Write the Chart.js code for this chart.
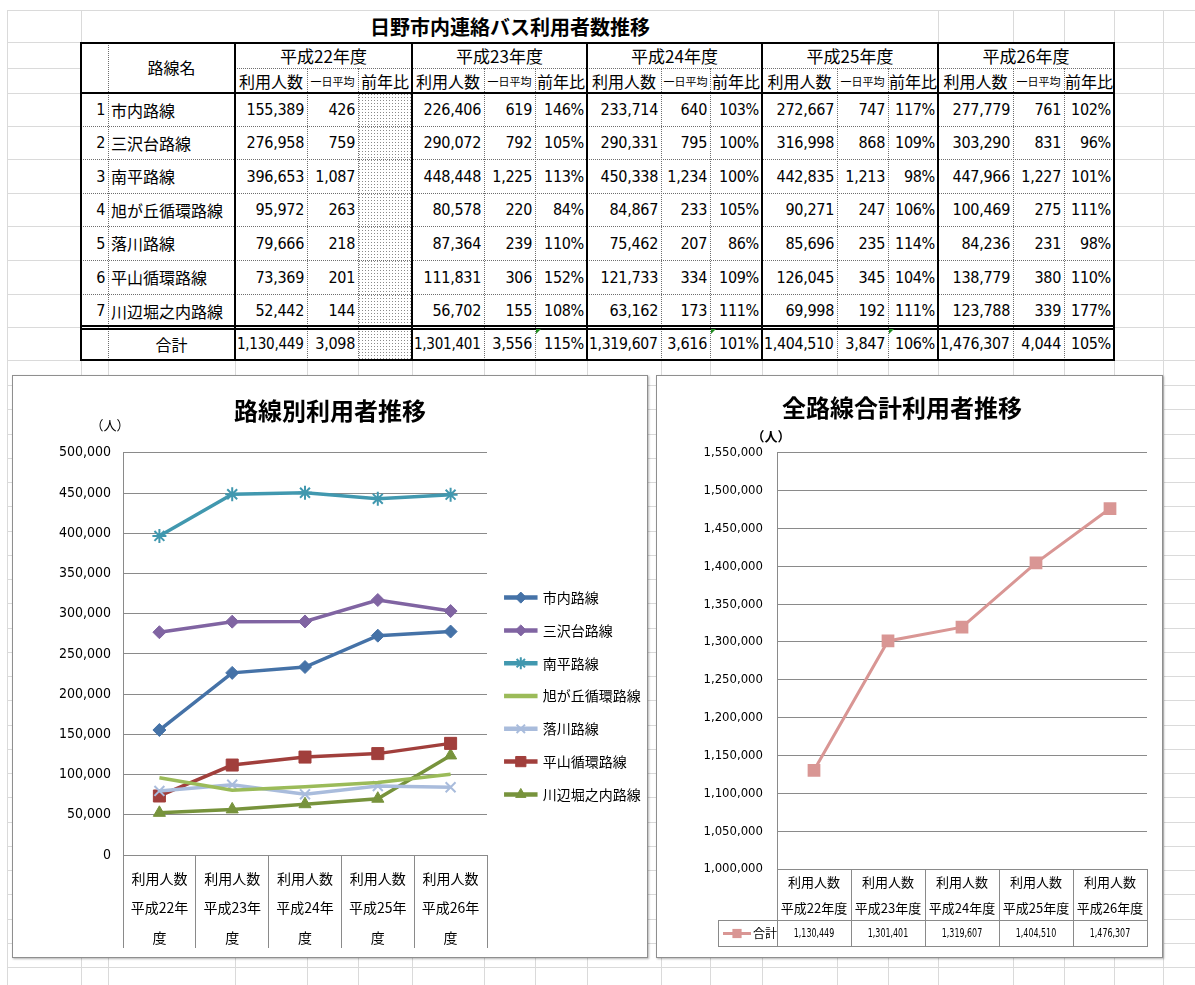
<!DOCTYPE html>
<html lang="ja">
<head>
<meta charset="utf-8">
<title>日野市内連絡バス利用者数推移</title>
<script src="https://cdn.jsdelivr.net/npm/chart.js@4.4.1/dist/chart.umd.min.js"></script>
<style>
  body { margin:0; width:1195px; height:985px; position:relative; overflow:hidden; background:#fff; font-family:"Noto Sans CJK JP", sans-serif; color:#000; }
  .grid { position:absolute; background:#dadada; }
  #sheetTitle { position:absolute; left:82px; top:11px; width:856px; height:31px; background:#fff; text-align:center; font-size:20px; font-weight:bold; line-height:31px; }
  .cell { position:absolute; box-sizing:border-box; display:flex; align-items:center; background:#fff; white-space:nowrap; font-size:16px; overflow:hidden; }
  .num { justify-content:flex-end; padding-right:3px; font-family:"DejaVu Sans Condensed", sans-serif; letter-spacing:-0.3px; }
  .num span { display:inline-block; transform-origin:right center; }
  .name { justify-content:flex-start; padding-left:3px; }
  .ctr { justify-content:center; }
  .dots { background:#fff radial-gradient(circle, #8a8a8a 0.6px, transparent 0.9px) 0 0/3px 3px; }
  .ln { position:absolute; box-sizing:border-box; }
  .box { position:absolute; box-sizing:border-box; border:1px solid #8f8f8f; background:#fff; box-shadow:1px 1px 2px rgba(0,0,0,.3); }
  canvas { display:block; }
</style>
</head>
<body>
<div id="sheetTitle">日野市内連絡バス利用者数推移</div>
<div class="box" style="left:12px;top:375px;width:636px;height:583px"><canvas id="routeChart" width="634" height="581"></canvas></div>
<div class="box" style="left:656px;top:375px;width:507px;height:583px"><canvas id="totalChart" width="505" height="581"></canvas></div>
<script>
// 年度
const years = ['平成22年度', '平成23年度', '平成24年度', '平成25年度', '平成26年度'];
const routes = ['市内路線', '三沢台路線', '南平路線', '旭が丘循環路線', '落川路線', '平山循環路線', '川辺堀之内路線'];

// 利用人数
const shinai      = [155389, 226406, 233714, 272667, 277779];
const misawadai   = [276958, 290072, 290331, 316998, 303290];
const minamidaira = [396653, 448448, 450338, 442835, 447966];
const asahigaoka  = [95972, 80578, 84867, 90271, 100469];
const ochikawa    = [79666, 87364, 75462, 85696, 84236];
const hirayama    = [73369, 111831, 121733, 126045, 138779];
const kawabe      = [52442, 56702, 63162, 69998, 123788];
const total       = [1130449, 1301401, 1319607, 1404510, 1476307];

// 一日平均
const shinaiDay      = [426, 619, 640, 747, 761];
const misawadaiDay   = [759, 792, 795, 868, 831];
const minamidairaDay = [1087, 1225, 1234, 1213, 1227];
const asahigaokaDay  = [263, 220, 233, 247, 275];
const ochikawaDay    = [218, 239, 207, 235, 231];
const hirayamaDay    = [201, 306, 334, 345, 380];
const kawabeDay      = [144, 155, 173, 192, 339];
const totalDay       = [3098, 3556, 3616, 3847, 4044];

// 前年比 (%), 平成22年度は無し
const shinaiPct      = [null, 146, 103, 117, 102];
const misawadaiPct   = [null, 105, 100, 109, 96];
const minamidairaPct = [null, 113, 100, 98, 101];
const asahigaokaPct  = [null, 84, 105, 106, 111];
const ochikawaPct    = [null, 110, 86, 114, 98];
const hirayamaPct    = [null, 152, 109, 104, 110];
const kawabePct      = [null, 108, 111, 111, 177];
const totalPct       = [null, 115, 101, 106, 105];

const routeUsers = [shinai, misawadai, minamidaira, asahigaoka, ochikawa, hirayama, kawabe];
const routeDay = [shinaiDay, misawadaiDay, minamidairaDay, asahigaokaDay, ochikawaDay, hirayamaDay, kawabeDay];
const routePct = [shinaiPct, misawadaiPct, minamidairaPct, asahigaokaPct, ochikawaPct, hirayamaPct, kawabePct];

const fmt = v => v.toLocaleString('en-US');

// ---- sheet grid ----
const sheetCols = [7, 81, 108, 235, 307, 358, 412, 484, 535, 587, 661, 710, 762, 837, 888, 938, 1013, 1064, 1114, 1163];
const sheetRows = [10, 42, 68, 93, 126, 159, 193, 226, 260, 294, 327, 360];
for (let y = 385; y < 985; y += 24.25) sheetRows.push(Math.round(y));

function div(cls, x, y, w, h, css) {
  const d = document.createElement('div');
  d.className = cls;
  d.style.cssText = `left:${x}px;top:${y}px;width:${w}px;height:${h}px;` + (css || '');
  document.body.insertBefore(d, document.body.firstChild);
  return d;
}
// (inserted at the front so they stay under everything)
sheetCols.forEach(x => div('grid', x, 10, 1, 975));
sheetRows.forEach(y => div('grid', 7, y, 1188, 1));

// ---- table ----
const colX = [81, 108, 235, 307, 358, 412, 484, 535, 587, 661, 710, 762, 837, 888, 938, 1013, 1064, 1114];
const rowY = [42, 68, 93, 126, 159, 193, 226, 260, 294, 327, 360];

function cell(x1, x2, y1, y2, text, cls, css) {
  const d = document.createElement('div');
  d.className = 'cell ' + cls;
  d.style.cssText = `left:${x1}px;top:${y1}px;width:${x2 - x1}px;height:${y2 - y1}px;` + (css || '');
  if (cls.includes('num')) {
    const s = document.createElement('span');
    s.textContent = text;
    d.appendChild(s);
  } else {
    d.textContent = text;
  }
  document.body.appendChild(d);
  return d;
}
function ln(x, y, w, h, css) {
  const d = document.createElement('div');
  d.className = 'ln';
  d.style.cssText = `left:${x}px;top:${y}px;width:${w}px;height:${h}px;` + css;
  document.body.appendChild(d);
}

cell(colX[0], colX[1], rowY[0], rowY[2], '', 'ctr');
cell(colX[1], colX[2], rowY[0], rowY[2], '路線名', 'ctr', 'padding-bottom:2px;');
years.forEach((yr, g) => {
  const c = 2 + 3 * g;
  cell(colX[c], colX[c + 3], rowY[0], rowY[1], yr, 'ctr', 'font-size:17px;');
  cell(colX[c], colX[c + 1], rowY[1], rowY[2], '利用人数', 'ctr');
  cell(colX[c + 1], colX[c + 2], rowY[1], rowY[2], '一日平均', 'ctr', 'font-size:11px;');
  cell(colX[c + 2], colX[c + 3], rowY[1], rowY[2], '前年比', 'ctr', 'font-size:16px;');
});

function tableRow(r, no, name, users, day, pct) {
  const y1 = rowY[2 + r], y2 = rowY[3 + r];
  cell(colX[0], colX[1], y1, y2, no, 'num');
  if (no) cell(colX[1], colX[2], y1, y2, name, 'name');
  else cell(colX[1], colX[2], y1, y2, name, 'ctr');
  years.forEach((yr, g) => {
    const c = 2 + 3 * g;
    cell(colX[c], colX[c + 1], y1, y2, fmt(users[g]), 'num');
    cell(colX[c + 1], colX[c + 2], y1, y2, fmt(day[g]), 'num');
    if (pct[g] === null) cell(colX[c + 2], colX[c + 3], y1, y2, '', 'dots');
    else cell(colX[c + 2], colX[c + 3], y1, y2, pct[g] + '%', 'num');
  });
}
routes.forEach((name, r) => tableRow(r, String(r + 1), name, routeUsers[r], routeDay[r], routePct[r]));
tableRow(7, '', '合計', total, totalDay, totalPct);

// shrink numbers that do not fit, like the spreadsheet does
document.querySelectorAll('.num span').forEach(s => {
  const room = s.parentNode.clientWidth - 5;
  if (s.offsetWidth > room) s.style.transform = `scaleX(${room / s.offsetWidth})`;
});

// table rules
const dotted = 'border-top:1px dotted #6e6e6e;';
const dottedV = 'border-left:1px dotted #6e6e6e;';
ln(colX[1], rowY[0], 1, rowY[10] - rowY[0], dottedV);
[3, 4, 6, 7, 9, 10, 12, 13, 15, 16].forEach(c => ln(colX[c], rowY[1], 1, rowY[10] - rowY[1], dottedV));
ln(colX[2], rowY[1], colX[17] - colX[2], 1, dotted);
for (let r = 3; r <= 8; r++) ln(colX[0], rowY[r], colX[17] - colX[0], 1, dotted);
[2, 5, 8, 11, 14].forEach(c => ln(colX[c] - 1, rowY[0], 2, rowY[10] - rowY[0], 'background:#000;'));
ln(colX[0], rowY[2] - 1, colX[17] - colX[0], 2, 'background:#000;');
ln(colX[0], rowY[9] - 2, colX[17] - colX[0], 0, 'border-top:5px double #000;');
ln(colX[0] - 1, rowY[0], colX[17] - colX[0] + 2, rowY[10] - rowY[0] + 1, 'border:2px solid #000;');
// error marks in the 合計 row
[7, 10, 13].forEach(c => ln(colX[c] + 1, rowY[9] + 2, 0, 0, 'border-top:5px solid #1f8a1f;border-right:5px solid transparent;'));

// ---- charts ----
Chart.defaults.font.family = '"Noto Sans CJK JP", sans-serif';
Chart.defaults.color = '#000';
const gridGray = '#8a8a8a';
const narrow = '"DejaVu Sans Condensed", sans-serif';

function series(label, data, color, style, r) {
  const stroked = style === 'star' || style === 'crossRot';
  return {
    label: label, data: data,
    borderColor: color, backgroundColor: color,
    borderWidth: 3.5, tension: 0,
    pointStyle: style, pointRadius: style ? r : 0,
    pointBackgroundColor: color, pointBorderColor: color,
    pointBorderWidth: stroked ? 2 : 1
  };
}

// markers on top of the legend lines, and the legend moved down a little
const legendMarks = {
  id: 'legendMarks',
  afterUpdate(chart, args, opts) {
    const lg = chart.legend;
    if (!lg || !lg.legendHitBoxes) return;
    lg.top += opts.shift;
    lg.bottom += opts.shift;
    lg.legendHitBoxes.forEach(b => { b.top += opts.shift; });
  },
  afterDraw(chart) {
    const lg = chart.legend;
    if (!lg || !lg.legendHitBoxes) return;
    const ctx = chart.ctx;
    lg.legendHitBoxes.forEach((b, i) => {
      const d = chart.data.datasets[i];
      if (!d.pointStyle) return;
      ctx.save();
      ctx.fillStyle = d.borderColor;
      ctx.strokeStyle = d.borderColor;
      ctx.lineWidth = d.pointBorderWidth;
      Chart.helpers.drawPoint(ctx, { pointStyle: d.pointStyle, radius: d.pointRadius * 0.85, borderWidth: d.pointBorderWidth, rotation: 0 },
        b.left + 15, b.top + b.height / 2);
      ctx.restore();
    });
  }
};

// "（人）" unit label above the y axis
const unitLabel = {
  id: 'unitLabel',
  afterDraw(chart, args, opts) {
    const ctx = chart.ctx, a = chart.chartArea;
    ctx.save();
    ctx.font = (opts.bold ? 'bold ' : '') + opts.size + 'px "Noto Sans CJK JP"';
    ctx.fillStyle = '#000';
    ctx.textAlign = 'center';
    ctx.textBaseline = 'middle';
    ctx.fillText('（人）', a.left + opts.dx, a.top + opts.dy);
    ctx.restore();
  }
};

new Chart(document.getElementById('routeChart'), {
  type: 'line',
  data: {
    labels: years.map(y => ['利用人数', y.slice(0, -1), '度']),
    datasets: [
      series(routes[0], shinai, '#4572A7', 'rectRot', 6.5),
      series(routes[1], misawadai, '#8064A2', 'rectRot', 6.5),
      series(routes[2], minamidaira, '#4198AF', 'star', 7),
      series(routes[3], asahigaoka, '#9BBB59', false, 0),
      series(routes[4], ochikawa, '#A9BCDC', 'crossRot', 7),
      series(routes[5], hirayama, '#A13F3C', 'rect', 8.5),
      series(routes[6], kawabe, '#77933C', 'triangle', 7)
    ]
  },
  plugins: [legendMarks, unitLabel],
  options: {
    responsive: false,
    animation: false,
    layout: { padding: { left: 0, right: 0, top: 0, bottom: 9 } },
    plugins: {
      title: { display: true, text: '路線別利用者推移', font: { size: 24, weight: 'bold' }, color: '#000', padding: { top: 20, bottom: 28 } },
      legend: {
        position: 'right', maxWidth: 160,
        labels: { boxWidth: 30, boxHeight: 1, padding: 18.8, font: { size: 14 }, color: '#000' }
      },
      legendMarks: { shift: 34 },
      tooltip: { enabled: false },
      unitLabel: { dx: -13, dy: -28, size: 13, bold: false }
    },
    scales: {
      y: {
        min: 0, max: 500000,
        ticks: { stepSize: 50000, callback: v => fmt(v), font: { family: narrow, size: 14 }, color: '#000', padding: 12 },
        grid: { color: gridGray, drawTicks: false },
        border: { color: gridGray },
        afterFit(s) { s.width = 110; }
      },
      x: {
        offset: true,
        grid: { offset: true, color: gridGray, tickLength: 93, drawOnChartArea: false },
        ticks: { padding: -84, font: { size: 14, lineHeight: 2.1 }, color: '#000', maxRotation: 0 },
        border: { color: gridGray },
        afterFit(s) { s.height = 93; }
      }
    }
  }
});

// data table under the total chart
const dataTable = {
  id: 'dataTable',
  afterDraw(chart) {
    const { ctx, chartArea: a, scales: { x } } = chart;
    const ds = chart.data.datasets[0];
    const top = a.bottom + 51, bot = a.bottom + 78, left = a.left - 59;
    const cy = (top + bot) / 2;
    ctx.save();
    ctx.strokeStyle = gridGray;
    ctx.lineWidth = 1;
    ctx.beginPath();
    ctx.moveTo(left, top + 0.5); ctx.lineTo(a.right, top + 0.5);
    ctx.moveTo(left, bot - 0.5); ctx.lineTo(a.right, bot - 0.5);
    ctx.moveTo(left + 0.5, top); ctx.lineTo(left + 0.5, bot);
    ctx.stroke();
    ctx.strokeStyle = ds.borderColor;
    ctx.lineWidth = 3;
    ctx.beginPath();
    ctx.moveTo(left + 5, cy); ctx.lineTo(left + 33, cy);
    ctx.stroke();
    ctx.fillStyle = ds.borderColor;
    Chart.helpers.drawPoint(ctx, { pointStyle: 'rect', radius: 6.5, borderWidth: 0, rotation: 0 }, left + 19, cy);
    ctx.fillStyle = '#000';
    ctx.textBaseline = 'middle';
    ctx.textAlign = 'left';
    ctx.font = '12px "Noto Sans CJK JP"';
    ctx.fillText(ds.label, left + 35, cy);
    ctx.textAlign = 'center';
    ctx.font = '13px ' + narrow;
    ds.data.forEach((v, i) => {
      ctx.save();
      ctx.translate(x.getPixelForValue(i), cy);
      ctx.scale(0.68, 1);
      ctx.fillText(fmt(v), 0, 0);
      ctx.restore();
    });
    ctx.restore();
  }
};

new Chart(document.getElementById('totalChart'), {
  type: 'line',
  data: {
    labels: years.map(y => ['利用人数', y]),
    datasets: [{
      label: '合計', data: total,
      borderColor: '#D99694', backgroundColor: '#D99694',
      borderWidth: 3, tension: 0,
      pointStyle: 'rect', pointRadius: 9,
      pointBackgroundColor: '#D99694', pointBorderColor: '#D99694', pointBorderWidth: 0
    }]
  },
  plugins: [dataTable, unitLabel],
  options: {
    responsive: false,
    animation: false,
    layout: { padding: { left: 0, right: 15, top: 0, bottom: 10 } },
    plugins: {
      title: { display: true, text: '全路線合計利用者推移', font: { size: 24, weight: 'bold' }, color: '#000', padding: { top: 17, bottom: 31 } },
      legend: { display: false },
      tooltip: { enabled: false },
      unitLabel: { dx: -6, dy: -17, size: 13, bold: true }
    },
    scales: {
      y: {
        min: 1000000, max: 1550000,
        ticks: { stepSize: 50000, callback: v => fmt(v), font: { family: narrow, size: 13 }, color: '#000', padding: 14 },
        grid: { color: gridGray, drawTicks: false },
        border: { color: gridGray },
        afterFit(s) { s.width = 120; }
      },
      x: {
        offset: true,
        grid: { offset: true, color: gridGray, tickLength: 78, drawOnChartArea: false },
        ticks: { padding: -78, font: { size: 13, lineHeight: 2 }, color: '#000', maxRotation: 0 },
        border: { color: gridGray },
        afterFit(s) { s.height = 78; }
      }
    }
  }
});
</script>
</body>
</html>
